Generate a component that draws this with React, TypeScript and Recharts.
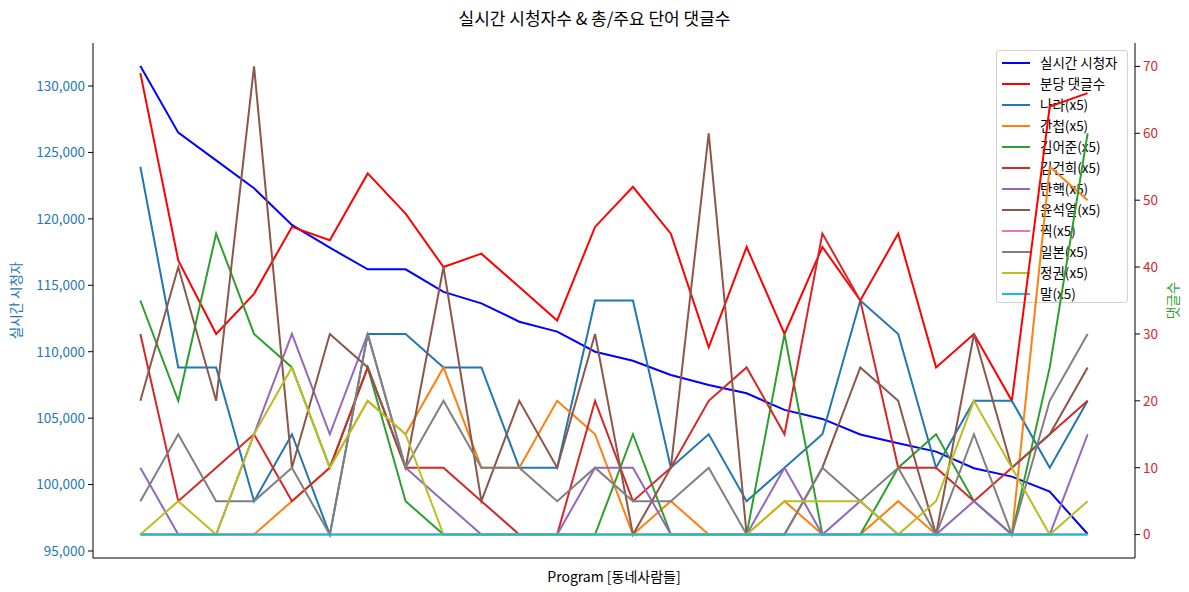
import React from 'react';
import { LineChart, Line, XAxis, YAxis, Legend } from 'recharts';

const FONT = '"Noto Sans CJK KR", "Noto Sans", sans-serif';

// x positions (minute index)
const minuteIdx = [0, 1, 2, 3, 4, 5, 6, 7, 8, 9, 10, 11, 12, 13, 14, 15, 16, 17, 18, 19, 20, 21, 22, 23, 24, 25];

// left axis: live viewers
const viewers = [131500, 126490, 124400, 122300, 119540, 117830, 116200, 116200, 114500, 113640, 112260, 111510, 110000, 109320, 108250, 107500, 106870, 105620, 104940, 103770, 103110, 102480, 101230, 100600, 99470, 96280];

// right axis: comments
const perMinute = [69, 41, 30, 36, 46, 44, 54, 48, 40, 42, 37, 32, 46, 52, 45, 28, 43, 30, 43, 35, 45, 25, 30, 20, 64, 66];
const nara = [55, 25, 25, 5, 15, 0, 30, 30, 25, 25, 10, 10, 35, 35, 10, 15, 5, 10, 15, 35, 30, 10, 20, 20, 10, 20];
const gancheop = [0, 0, 0, 0, 5, 10, 20, 15, 25, 10, 10, 20, 15, 0, 5, 0, 0, 5, 0, 0, 5, 0, 0, 0, 55, 50];
const kimEojun = [35, 20, 45, 30, 25, 10, 25, 5, 0, 0, 0, 0, 0, 15, 0, 0, 0, 30, 0, 0, 10, 15, 5, 0, 25, 60];
const kimGeonhee = [30, 5, 10, 15, 5, 10, 25, 10, 10, 5, 0, 0, 20, 5, 10, 20, 25, 15, 45, 35, 10, 10, 5, 10, 15, 20];
const tanhaek = [10, 0, 0, 15, 30, 15, 30, 10, 5, 0, 0, 0, 10, 10, 0, 0, 0, 10, 0, 5, 0, 0, 5, 0, 0, 15];
const yoonSeokyeol = [20, 40, 20, 70, 10, 30, 25, 10, 40, 5, 20, 10, 30, 0, 10, 60, 0, 0, 10, 25, 20, 0, 30, 10, 15, 25];
const jjik = [0, 0, 0, 0, 0, 0, 0, 0, 0, 0, 0, 0, 0, 0, 0, 0, 0, 0, 0, 0, 0, 0, 0, 0, 0, 0];
const ilbon = [5, 15, 5, 5, 10, 0, 30, 10, 20, 10, 10, 5, 10, 5, 5, 10, 0, 0, 10, 5, 10, 0, 15, 0, 20, 30];
const jeonggwon = [0, 5, 0, 15, 25, 10, 20, 15, 0, 0, 0, 0, 0, 0, 0, 0, 0, 5, 5, 5, 0, 5, 20, 10, 0, 5];
const mal = [0, 0, 0, 0, 0, 0, 0, 0, 0, 0, 0, 0, 0, 0, 0, 0, 0, 0, 0, 0, 0, 0, 0, 0, 0, 0];

const leftTicks = [95000, 100000, 105000, 110000, 115000, 120000, 125000, 130000];
const rightTicks = [0, 10, 20, 30, 40, 50, 60, 70];

const rightSeries = [
  { key: 'perMinute', name: '분당 댓글수', color: '#ff0000', values: perMinute },
  { key: 'nara', name: '나라(x5)', color: '#1f77b4', values: nara },
  { key: 'gancheop', name: '간첩(x5)', color: '#ff7f0e', values: gancheop },
  { key: 'kimEojun', name: '김어준(x5)', color: '#2ca02c', values: kimEojun },
  { key: 'kimGeonhee', name: '김건희(x5)', color: '#d62728', values: kimGeonhee },
  { key: 'tanhaek', name: '탄핵(x5)', color: '#9467bd', values: tanhaek },
  { key: 'yoon', name: '윤석열(x5)', color: '#8c564b', values: yoonSeokyeol },
  { key: 'jjik', name: '찍(x5)', color: '#e377c2', values: jjik },
  { key: 'ilbon', name: '일본(x5)', color: '#7f7f7f', values: ilbon },
  { key: 'jeonggwon', name: '정권(x5)', color: '#bcbd22', values: jeonggwon },
  { key: 'mal', name: '말(x5)', color: '#17becf', values: mal },
];

const legendItems = [{ name: '실시간 시청자', color: '#0000ff' }, ...rightSeries.map((s) => ({ name: s.name, color: s.color }))];

const data = minuteIdx.map((i, k) => {
  const row: Record<string, number> = { i, viewers: viewers[k] };
  rightSeries.forEach((s) => {
    row[s.key] = s.values[k];
  });
  return row;
});

const LegendBox = () => (
  <div
    style={{
      width: 132,
      height: 253,
      boxSizing: 'border-box',
      border: '1px solid #d0d0d0',
      borderRadius: 3,
      background: '#ffffff',
      paddingTop: 1,
      fontFamily: FONT,
      fontSize: 13.5,
      color: '#000',
    }}
  >
    {legendItems.map((it) => (
      <div key={it.name} style={{ height: 21, display: 'flex', alignItems: 'center', whiteSpace: 'nowrap' }}>
        <span style={{ display: 'inline-block', marginLeft: 5, width: 28, height: 2, background: it.color }} />
        <span style={{ marginLeft: 10, lineHeight: '21px' }}>{it.name}</span>
      </div>
    ))}
  </div>
);

const LeftLabel = (props: any) => {
  const vb = props.viewBox || { y: 43, height: 515 };
  const cx = 15;
  const cy = vb.y + vb.height / 2;
  return (
    <text x={cx} y={cy} transform={`rotate(-90 ${cx} ${cy})`} textAnchor="middle" dominantBaseline="central" fill="#1f77b4" fontSize={13.5} fontFamily={FONT}>
      실시간 시청자
    </text>
  );
};

const RightLabel = (props: any) => {
  const vb = props.viewBox || { y: 43, height: 515 };
  const cx = 1172;
  const cy = vb.y + vb.height / 2;
  return (
    <text x={cx} y={cy} transform={`rotate(-90 ${cx} ${cy})`} textAnchor="middle" dominantBaseline="central" fill="#2ca02c" fontSize={13.5} fontFamily={FONT}>
      댓글수
    </text>
  );
};

const BottomLabel = (props: any) => {
  const vb = props.viewBox || { x: 93, width: 1042 };
  const cx = vb.x + vb.width / 2;
  return (
    <text x={cx} y={576} textAnchor="middle" dominantBaseline="central" fill="#000" fontSize={14} fontFamily={FONT}>
      Program [동네사람들]
    </text>
  );
};

export default function App() {
  return (
    <div style={{ position: 'absolute', left: 0, top: 0, width: 1189, height: 592, fontFamily: FONT }}>
      <div
        style={{
          position: 'absolute',
          left: 0,
          top: 0,
          width: 1189,
          height: 36,
          lineHeight: '36px',
          textAlign: 'center',
          fontSize: 17,
          color: '#000',
          zIndex: 2,
        }}
      >
        실시간 시청자수 &amp; 총/주요 단어 댓글수
      </div>
      <LineChart width={1189} height={592} data={data} margin={{ top: 43, right: 0, bottom: 0, left: 0 }}>
        <XAxis
          dataKey="i"
          type="number"
          domain={[-1.25, 26.25]}
          allowDataOverflow
          ticks={[]}
          tick={false}
          tickLine={false}
          height={34}
          axisLine={{ stroke: '#000', strokeWidth: 1 }}
          label={BottomLabel}
        />
        <XAxis
          xAxisId="top"
          orientation="top"
          dataKey="i"
          type="number"
          domain={[-1.25, 26.25]}
          allowDataOverflow
          ticks={[]}
          tick={false}
          tickLine={false}
          height={0}
          axisLine={{ stroke: '#000', strokeWidth: 1 }}
        />
        <YAxis
          yAxisId="left"
          width={93}
          domain={[94473, 133237]}
          allowDataOverflow
          ticks={leftTicks}
          interval={0}
          tickFormatter={(v: number) => v.toLocaleString('en-US')}
          tick={{ fill: '#1f77b4', fontSize: 13.5, fontFamily: FONT }}
          tickSize={5}
          tickMargin={3}
          axisLine={{ stroke: '#000', strokeWidth: 1 }}
          tickLine={{ stroke: '#000' }}
          label={LeftLabel}
        />
        <YAxis
          yAxisId="right"
          orientation="right"
          width={54}
          domain={[-3.5, 73.5]}
          allowDataOverflow
          ticks={rightTicks}
          interval={0}
          tick={{ fill: '#d62728', fontSize: 13.5, fontFamily: FONT }}
          tickSize={5}
          tickMargin={3}
          axisLine={{ stroke: '#000', strokeWidth: 1 }}
          tickLine={{ stroke: '#000' }}
          label={RightLabel}
        />
        <Legend
          layout="vertical"
          align="center"
          verticalAlign="middle"
          wrapperStyle={{ left: 996, top: 50, width: 132, height: 253, zIndex: -1 }}
          content={() => <LegendBox />}
        />
        <Line
          yAxisId="left"
          type="linear"
          dataKey="viewers"
          name="실시간 시청자"
          stroke="#0000ff"
          strokeWidth={2}
          dot={false}
          isAnimationActive={false}
        />
        {rightSeries.map((s) => (
          <Line
            key={s.key}
            yAxisId="right"
            type="linear"
            dataKey={s.key}
            name={s.name}
            stroke={s.color}
            strokeWidth={2}
            dot={false}
            isAnimationActive={false}
          />
        ))}
      </LineChart>
    </div>
  );
}
